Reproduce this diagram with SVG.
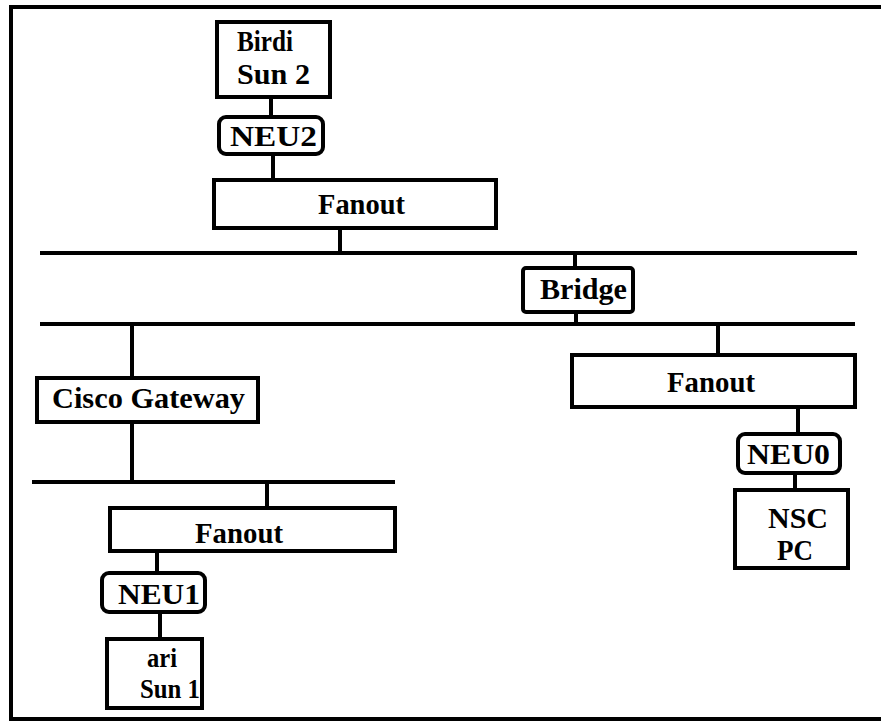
<svg xmlns="http://www.w3.org/2000/svg" width="881" height="724" viewBox="0 0 881 724">
<style>
.box{fill:#fff;stroke:#000;stroke-width:4}
.ln{stroke:#000;stroke-width:4;fill:none}
.bus{stroke:#000;stroke-width:4;fill:none}
text{font-family:"Liberation Serif","Times New Roman",serif;font-weight:bold;font-size:30px;fill:#000}
.sm{font-size:28px}
</style>
<rect width="881" height="724" fill="#fff"/>
<g id="frame"><path class="ln" d="M881,7 H11 V719 H881" stroke-width="3"/></g>
<g id="connectors">
<line class="bus" x1="40" y1="253" x2="857" y2="253"/>
<line class="bus" x1="40" y1="324" x2="855" y2="324"/>
<line class="bus" x1="32" y1="482" x2="395" y2="482"/>
<line class="ln" x1="271" y1="97" x2="271" y2="117"/>
<line class="ln" x1="273" y1="154" x2="273" y2="180"/>
<line class="ln" x1="340" y1="228" x2="340" y2="253"/>
<line class="ln" x1="575" y1="253" x2="575" y2="268"/>
<line class="ln" x1="576" y1="312" x2="576" y2="324"/>
<line class="ln" x1="132" y1="324" x2="132" y2="378"/>
<line class="ln" x1="132" y1="422" x2="132" y2="482"/>
<line class="ln" x1="267" y1="482" x2="267" y2="508"/>
<line class="ln" x1="157" y1="551" x2="157" y2="573"/>
<line class="ln" x1="160" y1="612" x2="160" y2="639"/>
<line class="ln" x1="718" y1="324" x2="718" y2="355"/>
<line class="ln" x1="798" y1="407" x2="798" y2="434"/>
<line class="ln" x1="795" y1="473" x2="795" y2="490"/>
</g>
<g id="birdi"><rect class="box" x="217" y="22" width="113" height="75"/><text x="237" y="51" textLength="56" lengthAdjust="spacingAndGlyphs">Birdi</text><text x="237" y="84" textLength="73" lengthAdjust="spacingAndGlyphs">Sun 2</text></g>
<g id="neu2"><rect class="box" x="219" y="117" width="104" height="37" rx="7"/><text x="230" y="146" textLength="87" lengthAdjust="spacingAndGlyphs">NEU2</text></g>
<g id="fanout1"><rect class="box" x="214" y="180" width="282" height="48"/><text x="318" y="214" textLength="87" lengthAdjust="spacingAndGlyphs">Fanout</text></g>
<g id="bridge"><rect class="box" x="523" y="268" width="110" height="44" rx="3"/><text x="540" y="299" textLength="87" lengthAdjust="spacingAndGlyphs">Bridge</text></g>
<g id="cisco"><rect class="box" x="37" y="378" width="221" height="44"/><text x="52" y="408" textLength="193" lengthAdjust="spacingAndGlyphs">Cisco Gateway</text></g>
<g id="fanout2"><rect class="box" x="572" y="355" width="283" height="52"/><text x="667" y="392" textLength="88" lengthAdjust="spacingAndGlyphs">Fanout</text></g>
<g id="neu0"><rect class="box" x="738" y="434" width="102" height="39" rx="7"/><text x="747" y="464" textLength="83" lengthAdjust="spacingAndGlyphs">NEU0</text></g>
<g id="nscpc"><rect class="box" x="735" y="490" width="113" height="78"/><text x="768" y="528" textLength="60" lengthAdjust="spacingAndGlyphs">NSC</text><text x="777" y="560" textLength="36" lengthAdjust="spacingAndGlyphs">PC</text></g>
<g id="fanout3"><rect class="box" x="110" y="508" width="285" height="43"/><text x="195" y="543" textLength="88" lengthAdjust="spacingAndGlyphs">Fanout</text></g>
<g id="neu1"><rect class="box" x="102" y="573" width="103" height="39" rx="7"/><text x="118" y="604" textLength="82" lengthAdjust="spacingAndGlyphs">NEU1</text></g>
<g id="ari"><rect class="box" x="107" y="639" width="95" height="69"/><text class="sm" x="147" y="667" textLength="30" lengthAdjust="spacingAndGlyphs">ari</text><text class="sm" x="140" y="698" textLength="60" lengthAdjust="spacingAndGlyphs">Sun 1</text></g>
</svg>
